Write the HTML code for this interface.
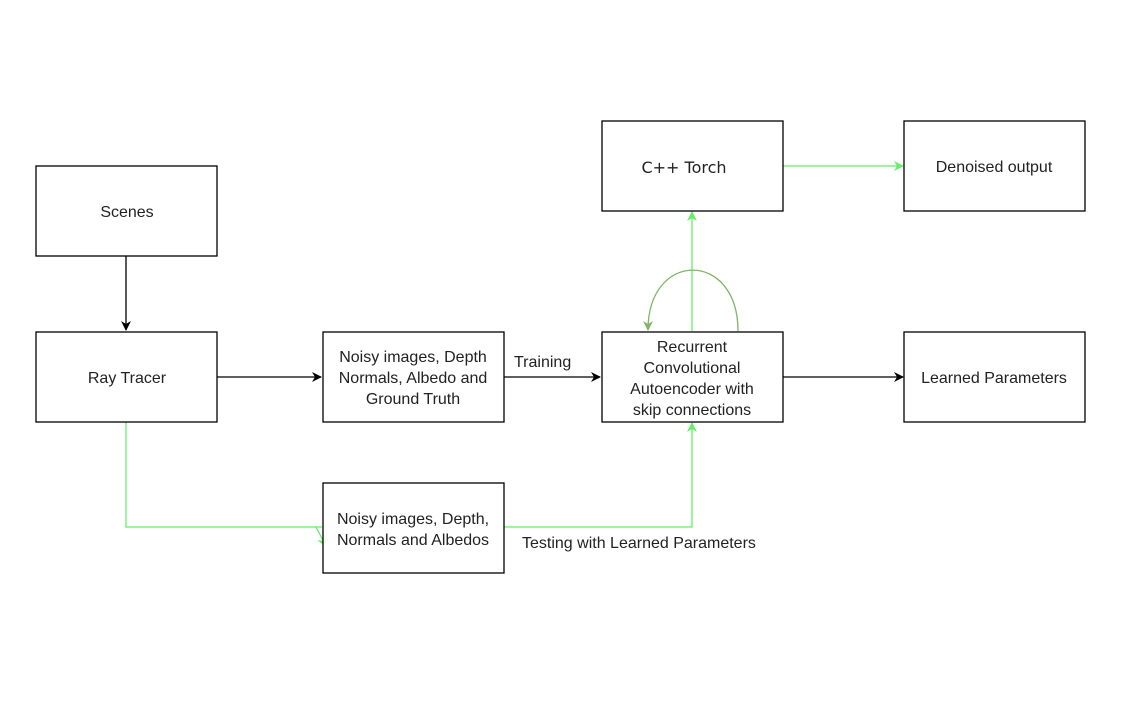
<!DOCTYPE html>
<html><head><meta charset="utf-8"><style>
html,body{margin:0;padding:0;background:#fff;}
svg{display:block;}
text{font-family:"Liberation Sans",sans-serif;font-size:16px;fill:#222;}
</style></head><body>
<svg width="1133" height="701" viewBox="0 0 1133 701" xmlns="http://www.w3.org/2000/svg">
<defs>
<marker id="ab" markerWidth="10" markerHeight="10" refX="9" refY="5" orient="auto" markerUnits="userSpaceOnUse"><path d="M0,0 L10,5 L0,10 L3,5 z" fill="#000"/></marker>
<marker id="ag" markerWidth="10" markerHeight="10" refX="9" refY="5" orient="auto" markerUnits="userSpaceOnUse"><path d="M0,0 L10,5 L0,10 L3,5 z" fill="#66ee66"/></marker>
<marker id="ad" markerWidth="10" markerHeight="10" refX="9" refY="5" orient="auto" markerUnits="userSpaceOnUse"><path d="M0,0 L10,5 L0,10 L3,5 z" fill="#82b366"/></marker>
</defs>
<g fill="none" stroke-width="1.3">
<line x1="126" y1="256" x2="126" y2="330" stroke="#000" marker-end="url(#ab)"/>
<line x1="217" y1="377" x2="321" y2="377" stroke="#000" marker-end="url(#ab)"/>
<line x1="504" y1="377" x2="600" y2="377" stroke="#000" marker-end="url(#ab)"/>
<line x1="783" y1="377" x2="903" y2="377" stroke="#000" marker-end="url(#ab)"/>
<line x1="783" y1="166" x2="903" y2="166" stroke="#66ee66" marker-end="url(#ag)"/>
<line x1="692" y1="331" x2="692" y2="212" stroke="#66ee66" marker-end="url(#ag)"/>
<polyline points="126,422 126,527 322,527" stroke="#66ee66"/>
<line x1="316" y1="527" x2="326" y2="546" stroke="#66ee66" marker-end="url(#ag)"/>
<polyline points="504,527 692,527 692,423" stroke="#66ee66" marker-end="url(#ag)"/>
<path d="M738,331 C738,250 648,250 648,330" stroke="#82b366" marker-end="url(#ad)"/>
</g>
<g fill="#fff" stroke="#000" stroke-width="1.3">
<rect x="36" y="166" width="181" height="90"/>
<rect x="36" y="332" width="181" height="90"/>
<rect x="323" y="332" width="181" height="90"/>
<rect x="602" y="332" width="181" height="90"/>
<rect x="904" y="332" width="181" height="90"/>
<rect x="602" y="121" width="181" height="90"/>
<rect x="904" y="121" width="181" height="90"/>
<rect x="323" y="483" width="181" height="90"/>
</g>
<g text-anchor="middle">
<text x="127" y="217">Scenes</text>
<text x="127" y="383">Ray Tracer</text>
<text x="413" y="362">Noisy images, Depth</text>
<text x="413" y="383">Normals, Albedo and</text>
<text x="413" y="404">Ground Truth</text>
<text x="692" y="352">Recurrent</text>
<text x="692" y="373">Convolutional</text>
<text x="692" y="394">Autoencoder with</text>
<text x="692" y="415">skip connections</text>
<text x="994" y="383">Learned Parameters</text>
<text x="684" y="173" style="font-family:'DejaVu Sans',sans-serif;font-size:16px">C++ Torch</text>
<text x="994" y="172">Denoised output</text>
<text x="413" y="524">Noisy images, Depth,</text>
<text x="413" y="545">Normals and Albedos</text>
</g>
<text x="514" y="367">Training</text>
<text x="522" y="548">Testing with Learned Parameters</text>
</svg>
</body></html>
